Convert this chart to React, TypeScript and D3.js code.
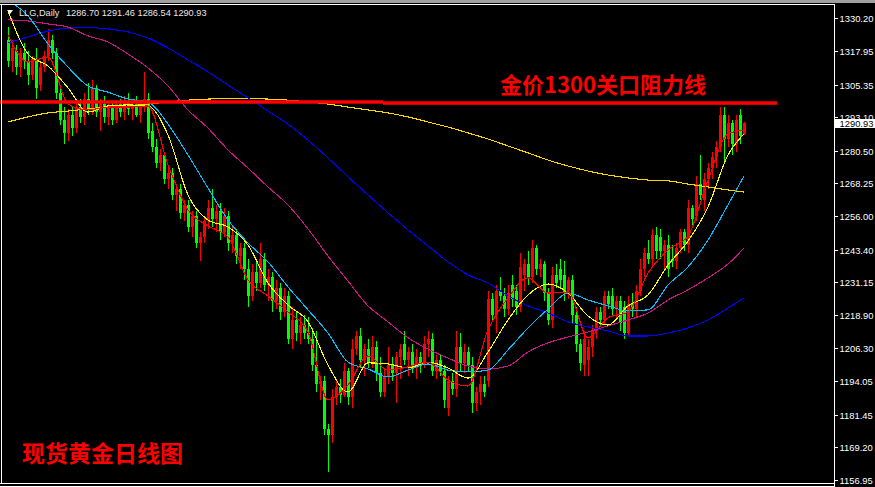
import React from 'react';
import * as d3 from 'd3';

const openP = [1322,1314,1318,1312,1317,1314,1309,1315,1305,1312,1316,1322,1317,1302,1292,1287,1294,1289,1297,1293,1300,1296,1304,1295,1298,1293,1297,1292,1298,1295,1299,1296,1298,1294,1297,1300,1288,1282,1276,1279,1270,1272,1264,1266,1257,1260,1252,1256,1246,1248,1254,1259,1255,1258,1250,1256,1246,1249,1241,1244,1236,1226,1235,1231,1240,1230,1233,1224,1229,1220,1226,1210,1217,1212,1215,1212,1210,1200,1193,1194,1176,1174,1188,1192,1189,1198,1188,1206,1211,1202,1206,1201,1207,1197,1190,1196,1200,1197,1203,1208,1202,1205,1199,1203,1200,1208,1210,1198,1202,1198,1184,1194,1191,1207,1201,1205,1200,1186,1190,1193,1194,1225,1219,1228,1226,1221,1230,1228,1222,1234,1238,1233,1244,1236,1238,1227,1217,1234,1236,1234,1228,1232,1219,1208,1200,1202,1207,1213,1220,1217,1226,1226,1221,1224,1222,1212,1223,1221,1228,1236,1242,1240,1249,1248,1243,1245,1240,1239,1244,1250,1245,1259,1256,1268,1262,1270,1274,1278,1282,1294,1285,1291,1283,1294,1286.70];
const highP = [1327,1322,1320,1319,1321,1318,1316,1319,1314,1318,1326,1324,1319,1304,1297,1296,1297,1299,1300,1302,1306,1307,1305,1300,1301,1298,1299,1299,1300,1301,1302,1300,1301,1299,1310,1302,1291,1285,1281,1280,1274,1274,1268,1268,1262,1262,1258,1258,1250,1256,1262,1266,1260,1261,1259,1258,1252,1251,1246,1246,1240,1238,1240,1246,1242,1236,1235,1232,1231,1229,1228,1222,1220,1218,1219,1218,1214,1213,1196,1196,1178,1191,1194,1195,1201,1199,1210,1213,1214,1208,1210,1211,1209,1203,1199,1207,1203,1205,1208,1213,1207,1208,1206,1205,1211,1213,1212,1204,1204,1200,1196,1197,1213,1212,1208,1207,1203,1192,1196,1196,1228,1227,1230,1233,1229,1230,1234,1230,1242,1240,1243,1247,1245,1240,1239,1229,1237,1238,1240,1239,1233,1234,1222,1210,1213,1210,1215,1222,1222,1228,1228,1229,1226,1226,1224,1226,1227,1230,1240,1244,1247,1251,1252,1251,1247,1249,1245,1246,1251,1251,1262,1260,1271,1279,1272,1276,1280,1284,1297,1297,1294,1292,1294,1296,1291.46];
const lowP = [1312,1310,1309,1308,1311,1305,1307,1300,1303,1310,1314,1315,1300,1290,1283,1284,1286,1287,1291,1290,1294,1294,1293,1288,1291,1290,1290,1291,1293,1292,1294,1292,1293,1291,1295,1285,1280,1274,1273,1268,1266,1262,1258,1255,1254,1250,1248,1244,1239,1246,1251,1252,1250,1247,1248,1243,1242,1238,1236,1232,1222,1224,1228,1229,1228,1224,1220,1221,1217,1218,1208,1206,1209,1208,1210,1208,1198,1190,1187,1174,1160,1171,1185,1186,1188,1185,1184,1204,1199,1196,1199,1199,1194,1188,1188,1193,1194,1186,1195,1200,1196,1197,1195,1197,1199,1203,1196,1195,1196,1184,1181,1189,1188,1198,1197,1198,1182,1183,1185,1188,1192,1217,1212,1224,1218,1219,1222,1219,1220,1228,1230,1231,1234,1233,1224,1215,1214,1229,1229,1224,1225,1216,1205,1198,1196,1196,1203,1210,1215,1215,1221,1218,1217,1213,1210,1211,1218,1218,1226,1233,1238,1237,1240,1240,1236,1233,1237,1236,1242,1243,1242,1252,1254,1262,1258,1266,1270,1274,1280,1276,1282,1279,1280,1283,1286.54];
const closeP = [1314,1319,1312,1317,1314,1309,1315,1304,1312,1316,1322,1317,1302,1292,1287,1294,1289,1297,1293,1300,1296,1304,1295,1298,1293,1297,1292,1298,1295,1299,1296,1298,1294,1297,1300,1287,1282,1276,1279,1270,1272,1264,1266,1257,1260,1252,1256,1246,1248,1254,1259,1255,1258,1250,1256,1246,1249,1241,1244,1236,1226,1235,1231,1240,1230,1233,1224,1229,1220,1226,1210,1217,1212,1215,1212,1210,1200,1193,1194,1176,1174,1188,1192,1189,1198,1188,1206,1211,1202,1206,1201,1207,1197,1190,1196,1200,1197,1203,1206,1202,1205,1199,1203,1200,1208,1210,1198,1202,1198,1187,1194,1191,1207,1201,1205,1200,1186,1190,1193,1190,1225,1219,1228,1226,1221,1227,1225,1222,1237,1238,1233,1244,1236,1238,1227,1217,1234,1231,1232,1227,1232,1219,1208,1201,1210,1207,1213,1220,1217,1226,1223,1221,1224,1216,1212,1223,1221,1228,1236,1242,1240,1249,1243,1243,1245,1236,1239,1244,1250,1245,1259,1255,1268,1264,1270,1274,1278,1282,1294,1285,1291,1283,1292,1286,1290.93];

const maIndex = [0,5,10,15,20,25,30,35,40,45,50,55,60,65,70,75,80,85,90,95,100,105,110,115,120,125,130,135,140,145,150,155,160,165,170,175,180,184];
const maRed = [1323.9,1313.8,1315.7,1298.0,1295.8,1296.9,1296.9,1297.3,1275.2,1258.3,1252.3,1248.1,1232.0,1226.0,1220.0,1212.5,1187.0,1192.6,1203.5,1198.2,1199.4,1201.2,1194.5,1192.2,1213.3,1225.3,1232.8,1227.1,1227.5,1210.3,1217.8,1220.0,1234.6,1243.3,1248.5,1269.5,1286.8,1288.3];
const maYellow = [1333.0,1316.8,1312.3,1304.1,1295.0,1297.3,1297.7,1297.3,1286.4,1263.9,1254.5,1251.9,1245.1,1230.9,1222.6,1216.3,1200.1,1190.0,1200.9,1200.5,1199.0,1201.2,1199.0,1195.2,1205.0,1217.0,1226.4,1230.5,1227.1,1218.5,1215.1,1222.3,1226.4,1237.6,1246.6,1259.4,1278.9,1286.8];
const maCyan = [1337.1,1331.1,1320.6,1311.9,1304.8,1302.5,1299.9,1298.8,1290.5,1278.9,1266.5,1254.5,1245.9,1238.8,1229.4,1220.8,1212.1,1201.2,1198.6,1195.6,1198.2,1200.5,1198.2,1197.5,1198.2,1205.8,1214.0,1221.1,1227.1,1224.5,1222.3,1220.4,1220.8,1230.1,1236.9,1247.0,1260.2,1271.0];
const maMagenta = [1329.6,1329.2,1328.1,1326.9,1323.6,1321.3,1316.8,1311.6,1304.8,1295.8,1289.0,1280.8,1274.0,1266.9,1260.2,1251.2,1241.0,1231.6,1222.3,1216.3,1210.3,1206.1,1202.7,1199.7,1198.6,1199.7,1205.0,1208.4,1210.6,1212.5,1214.8,1217.0,1219.6,1224.5,1228.3,1232.8,1238.0,1244.0];
const maBlue = [1321.0,1323.2,1325.4,1326.5,1326.7,1326.2,1325.1,1322.8,1319.1,1314.6,1310.1,1305.2,1300.3,1295.4,1290.5,1284.5,1277.8,1270.7,1263.9,1257.2,1250.8,1244.8,1238.8,1233.9,1230.9,1226.0,1222.3,1219.6,1216.3,1214.4,1212.9,1211.0,1211.0,1212.1,1214.0,1217.0,1221.5,1225.3];
const maGold = [1291.3,1293.2,1294.7,1295.4,1296.2,1296.9,1297.3,1298.0,1298.8,1299.5,1299.9,1300.1,1300.1,1299.9,1299.5,1298.8,1298.0,1296.9,1295.8,1294.7,1293.2,1291.3,1289.4,1287.2,1284.9,1282.3,1279.7,1277.0,1274.8,1272.9,1271.4,1270.3,1269.5,1269.2,1268.0,1266.9,1265.8,1265.0];

const tickLabels = ['1330.20','1317.95','1305.35','1293.10','1280.50','1268.25','1256.00','1243.40','1231.15','1218.90','1206.30','1194.05','1181.45','1169.20','1156.95'];
const lastPrice = 1290.93;
const symbolText = 'LLG,Daily';
const ohlcText = '1286.70 1291.46 1286.54 1290.93';
const resistanceText = '金价1300关口阻力线';
const chartTitle = '现货黄金日线图';
// resistance line drawn in two pieces: [fromIndex, toIndex, price]
const resistanceSegs = [[-2, 93.75, 1298.8], [93.75, 192.25, 1298.4]];

const W = 875, H = 487;
const PL = 2, PT = 5, PR = 834, PB = 483;

export default function App() {
  const x = d3.scaleLinear().domain([0, closeP.length - 1]).range([8, 744]);
  const y = d3.scaleLinear().domain([1156.95, 1330.2]).range([480, 18.3]);

  const mkLine = (vals: number[]) =>
    d3.line<number>()
      .x((_, k) => x(maIndex[k]))
      .y((d) => y(d))
      .curve(d3.curveMonotoneX)(vals) || '';

  const lines: [number[], string][] = [
    [maGold, '#ffd700'],
    [maBlue, '#0000ff'],
    [maMagenta, '#c71585'],
    [maCyan, '#00bfff'],
    [maYellow, '#ffff00'],
    [maRed, '#ff0000'],
  ];

  const axisFont = '"Liberation Sans", Arial, sans-serif';
  const cjkFont = '"Noto Sans CJK SC", "Noto Sans", sans-serif';

  return (
    <div style={{ position: 'absolute', left: 0, top: 0 }}>
      <svg width={W} height={H} style={{ display: 'block', background: '#000' }}>
        <defs>
          <clipPath id="plot">
            <rect x={PL} y={PT} width={PR - PL} height={PB - PT} />
          </clipPath>
        </defs>
        <rect x={0} y={0} width={W} height={H} fill="#000" />
        <rect x={0} y={0} width={W} height={3} fill="#a0a0a0" />

        <g clipPath="url(#plot)" shapeRendering="crispEdges">
          {closeP.map((c, i) => {
            const o = openP[i];
            const cx = Math.round(x(i));
            const col = c >= o ? '#ff0000' : '#00ff00';
            const t = Math.round(y(Math.max(o, c)));
            const b = Math.round(y(Math.min(o, c)));
            const hy = Math.round(y(highP[i]));
            const ly = Math.round(y(lowP[i]));
            return (
              <g key={i}>
                <rect x={cx} y={hy} width={1} height={Math.max(1, ly - hy)} fill={col} />
                <rect x={cx - 1} y={t} width={3} height={Math.max(1, b - t)} fill={col} />
              </g>
            );
          })}
        </g>
        <g clipPath="url(#plot)">
          {lines.map(([v, col], k) => (
            <path key={k} d={mkLine(v)} fill="none" stroke={col} strokeWidth={1.1} shapeRendering="crispEdges" />
          ))}
        </g>

        {resistanceSegs.map(([a, b, p], k) => (
          <rect key={k} x={x(a)} y={y(p) - 1.75} width={x(b) - x(a)} height={3.5} fill="#ff0000" />
        ))}

        {/* frame */}
        <g stroke="#ffffff" strokeWidth={1} shapeRendering="crispEdges" fill="none">
          <line x1={0} y1={4.5} x2={834.5} y2={4.5} />
          <line x1={1.5} y1={4.5} x2={1.5} y2={483.5} />
          <line x1={834.5} y1={4.5} x2={834.5} y2={487} />
          <line x1={0} y1={483.5} x2={834.5} y2={483.5} />
          <line x1={0} y1={486} x2={834.5} y2={486} />
        </g>

        {/* axis ticks and labels */}
        {tickLabels.map((t) => {
          const yy = Math.round(y(parseFloat(t)));
          return (
            <g key={t}>
              <line x1={835} x2={838} y1={yy + 0.5} y2={yy + 0.5} stroke="#fff" shapeRendering="crispEdges" />
              <text x={839.5} y={yy + 4} fill="#ffffff" fontFamily={axisFont} fontSize={9.4}>{t}</text>
            </g>
          );
        })}
        <rect x={835} y={Math.round(y(lastPrice)) - 4} width={40} height={9} fill="#ffffff" />
        <text x={839.5} y={Math.round(y(lastPrice)) + 4} fill="#000" fontFamily={axisFont} fontSize={9.4}>{lastPrice.toFixed(2)}</text>

        {/* header */}
        <polygon points="7,10 13,10 10,14" fill="#ffffff" />
        <text x={19} y={16} fill="#e8e8e8" fontFamily={axisFont} fontSize={9.2}>{symbolText}</text>
        <text x={66} y={16} fill="#e8e8e8" fontFamily={axisFont} fontSize={9.2}>{ohlcText}</text>

        {/* annotations */}
        <text x={500} y={93} fill="#ff0000" fontFamily={cjkFont} fontWeight="bold" fontSize={22}>{resistanceText}</text>
        <text x={22} y={462} fill="#ff0000" fontFamily={cjkFont} fontWeight="bold" fontSize={23}>{chartTitle}</text>
      </svg>
    </div>
  );
}
